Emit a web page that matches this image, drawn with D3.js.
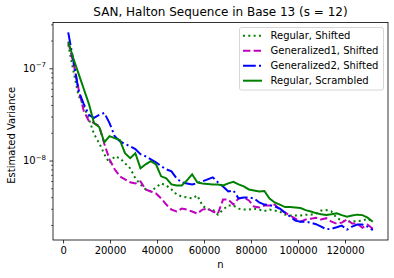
<!DOCTYPE html>
<html><head><meta charset="utf-8">
<script src="https://cdn.jsdelivr.net/npm/d3@7"></script>
<style>
html,body{margin:0;padding:0;background:#fff;}
svg{display:block;font-family:"DejaVu Sans",sans-serif;}
</style></head>
<body>
<script>
// n = 13^3 * k, k = 1..60
const nValues = d3.range(1, 61).map(k => 2197 * k);

// Estimated variance (units of 1e-9, converted below)
const regularShifted = [181.4, 94.4, 50.4, 39.2, 28.2, 19.4, 15.45, 11.7, 9.34, 11.1, 10.6, 9.34, 8.24, 6.41, 5.51, 4.86, 4.62, 5.11, 5.65, 5.37, 4.86, 4.29, 4.08, 3.98, 3.88, 4.18, 3.25, 2.94, 2.94, 2.59, 2.94, 3.25, 3.25, 3.01, 2.94, 2.94, 3.01, 2.94, 2.83, 2.94, 2.87, 2.80, 2.59, 2.53, 2.53, 2.53, 2.59, 2.59, 2.66, 2.87, 2.90, 2.80, 2.40, 2.23, 2.17, 2.20, 2.20, 2.23, 2.34, 2.17];
const generalized1Shifted = [190.8, 115.4, 60.0, 34.5, 26.9, 25.5, 23.7, 15.1, 10.3, 8.04, 6.74, 6.25, 5.80, 5.65, 5.94, 4.86, 4.62, 4.40, 3.88, 3.33, 2.94, 2.80, 3.01, 2.94, 2.80, 2.66, 2.94, 3.01, 2.80, 2.66, 3.78, 3.78, 3.33, 3.88, 3.98, 3.69, 3.17, 3.09, 3.25, 3.25, 3.33, 2.94, 2.73, 2.53, 2.34, 2.17, 2.29, 2.34, 2.40, 2.29, 2.37, 2.17, 2.07, 2.12, 2.29, 2.07, 2.07, 1.87, 2.02, 1.82];
const generalized2Shifted = [245.3, 121.4, 57.1, 41.2, 31.2, 29.0, 31.2, 32.8, 25.5, 18.4, 16.2, 15.1, 14.3, 13.3, 11.7, 11.1, 10.3, 9.58, 8.67, 8.04, 7.64, 6.41, 5.80, 5.65, 5.51, 5.65, 5.94, 6.25, 6.57, 5.80, 5.24, 4.62, 4.74, 3.88, 3.98, 3.98, 3.88, 3.51, 3.33, 3.29, 3.17, 3.01, 2.73, 2.46, 2.23, 2.17, 2.17, 2.12, 2.04, 1.92, 1.80, 1.82, 1.89, 1.97, 1.78, 1.92, 2.02, 2.02, 1.92, 1.76];
const regularScrambled = [195.7, 127.6, 87.5, 60.0, 41.2, 25.5, 23.1, 15.8, 18.4, 17.5, 16.7, 12.0, 10.6, 12.0, 8.24, 9.11, 9.83, 9.11, 6.74, 6.41, 5.51, 5.37, 5.37, 6.09, 7.09, 5.80, 5.65, 5.58, 5.51, 5.51, 5.37, 5.65, 5.87, 5.51, 5.24, 4.86, 4.74, 4.62, 4.68, 3.88, 3.51, 3.33, 3.13, 3.13, 3.09, 3.05, 2.90, 2.80, 2.69, 2.62, 2.57, 2.62, 2.68, 2.56, 2.46, 2.53, 2.59, 2.56, 2.40, 2.17];

const seriesNames = ["Regular, Shifted", "Generalized1, Shifted", "Generalized2, Shifted", "Regular, Scrambled"];
const seriesColors = ["#008000", "#bf00bf", "#0000ff", "#008000"];
const seriesDash = ["2,3.3", "7.4,3.2", "12.8,3.2,2,3.2", null];
const xTicks = [0, 20000, 40000, 60000, 80000, 100000, 120000];
const yMajorExp = [-9, -8, -7];

const allSeries = [regularShifted, generalized1Shifted, generalized2Shifted, regularScrambled]
  .map(a => a.map(v => v * 1e-9));

const W = 394, H = 278;
const M = {left: 53, right: 388, top: 22.5, bottom: 240};

const svg = d3.select("body").append("svg").attr("width", W).attr("height", H);

// x domain with 5% margins like matplotlib
const xmin = d3.min(nValues), xmax = d3.max(nValues), xr = xmax - xmin;
const x = d3.scaleLinear().domain([xmin - 0.05 * xr, xmax + 0.05 * xr]).range([M.left, M.right]);
const allV = allSeries.flat();
const lmin = Math.log10(d3.min(allV)), lmax = Math.log10(d3.max(allV)), lr = lmax - lmin;
const y = d3.scaleLog().domain([10 ** (lmin - 0.05 * lr), 10 ** (lmax + 0.05 * lr)]).range([M.bottom, M.top]);

const g = svg.append("g");

// lines
const clipId = "clip";
svg.append("defs").append("clipPath").attr("id", clipId).append("rect")
  .attr("x", M.left).attr("y", M.top).attr("width", M.right - M.left).attr("height", M.bottom - M.top);
const line = d3.line().x((d, i) => x(nValues[i])).y(d => y(d));
allSeries.forEach((s, i) => {
  g.append("path").datum(s).attr("d", line)
    .attr("fill", "none").attr("stroke", seriesColors[i]).attr("stroke-width", 2)
    .attr("stroke-dasharray", seriesDash[i]).attr("clip-path", `url(#${clipId})`);
});

// x axis
const xAxis = d3.axisBottom(x).tickValues(xTicks).tickSize(3.5).tickPadding(3.5).tickFormat(d3.format("d"));
const gx = svg.append("g").attr("transform", `translate(0,${M.bottom})`).call(xAxis);
gx.select(".domain").remove();
gx.selectAll("line").attr("stroke", "#000").attr("stroke-width", 0.8);
gx.selectAll("text").attr("font-size", 10).attr("fill", "#000").attr("font-family", "DejaVu Sans");

// y axis: major and minor ticks
const [d0, d1] = y.domain();
const minor = [];
for (let e = -10; e <= -6; e++) for (let m = 2; m <= 9; m++) {
  const v = m * 10 ** e; if (v >= d0 && v <= d1) minor.push(v);
}
const gyMinor = svg.append("g").attr("transform", `translate(${M.left},0)`)
  .call(d3.axisLeft(y).tickValues(minor).tickSize(2).tickFormat(""));
gyMinor.select(".domain").remove();
gyMinor.selectAll("line").attr("stroke", "#000").attr("stroke-width", 0.6);

const majors = yMajorExp.map(e => 10 ** e).filter(v => v >= d0 && v <= d1);
const gy = svg.append("g").attr("transform", `translate(${M.left},0)`)
  .call(d3.axisLeft(y).tickValues(majors).tickSize(3.5).tickFormat(""));
gy.select(".domain").remove();
gy.selectAll("line").attr("stroke", "#000").attr("stroke-width", 0.8);
majors.forEach(v => {
  const t = svg.append("text").attr("x", M.left - 7).attr("y", y(v) + 3.5)
    .attr("text-anchor", "end").attr("font-size", 10).attr("fill", "#000");
  t.append("tspan").text("10");
  t.append("tspan").attr("dy", -4.5).attr("font-size", 7).text("\u2212" + Math.round(-Math.log10(v)));
});

// frame
svg.append("rect").attr("x", M.left).attr("y", M.top).attr("width", M.right - M.left).attr("height", M.bottom - M.top)
  .attr("fill", "none").attr("stroke", "#000").attr("stroke-width", 0.8);

// labels
svg.append("text").attr("x", (M.left + M.right) / 2).attr("y", 16).attr("text-anchor", "middle")
  .attr("font-size", 12).text("SAN, Halton Sequence in Base 13 (s = 12)");
svg.append("text").attr("x", (M.left + M.right) / 2).attr("y", 268).attr("text-anchor", "middle")
  .attr("font-size", 10).text("n");
svg.append("text").attr("transform", `translate(15,${(M.top + M.bottom) / 2 + 4}) rotate(-90)`)
  .attr("text-anchor", "middle").attr("font-size", 10).text("Estimated Variance");

// legend
const lg = svg.append("g");
lg.append("rect").attr("x", 239.5).attr("y", 27.5).attr("width", 144).attr("height", 62.5)
  .attr("rx", 2).attr("fill", "#fff").attr("fill-opacity", 0.8).attr("stroke", "#cccccc").attr("stroke-width", 0.8);
seriesNames.forEach((name, i) => {
  const yy = 35.7 + i * 15;
  lg.append("line").attr("x1", 243).attr("x2", 262).attr("y1", yy).attr("y2", yy)
    .attr("stroke", seriesColors[i]).attr("stroke-width", 2).attr("stroke-dasharray", seriesDash[i]);
  lg.append("text").attr("x", 270.5).attr("y", yy + 3.6).attr("font-size", 10).text(name);
});
</script>
</body></html>
